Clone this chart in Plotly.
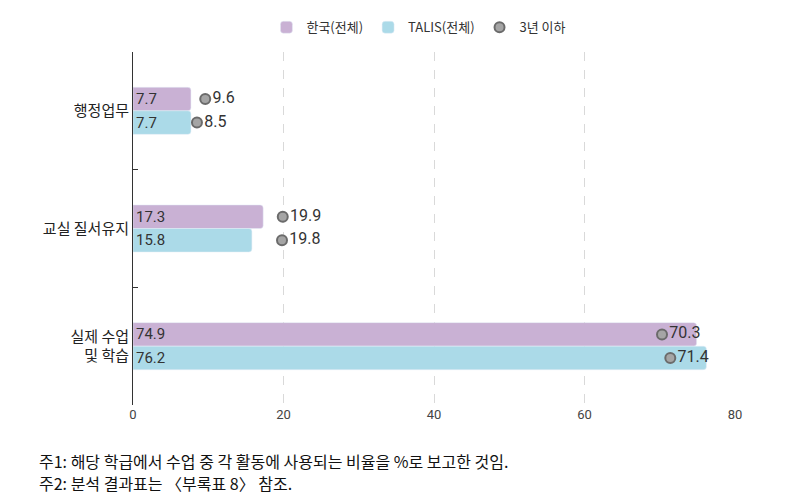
import plotly.graph_objects as go

categories = ["행정업무", "교실 질서유지", "실제 수업<br>및 학습"]
korea_all = [7.7, 17.3, 74.9]
talis_all = [7.7, 15.8, 76.2]
korea_3yr = [9.6, 19.9, 70.3]
talis_3yr = [8.5, 19.8, 71.4]
x_ticks = [0, 20, 40, 60, 80]

PURPLE = "#C9B1D4"
BLUE = "#ABDAE8"
DOT = "#A5A5A5"
DOT_LINE = "#6B6B6B"
FONT = "Noto Sans CJK KR"
NUMFONT = "Roboto, Noto Sans CJK KR"

fig = go.Figure()
for name, vals, color, grp in [("한국(전체)", korea_all, PURPLE, "k"),
                               ("TALIS(전체)", talis_all, BLUE, "t")]:
    fig.add_trace(go.Bar(
        name=name, x=vals, y=categories, orientation="h",
        marker=dict(color=color), text=[f"{v:.1f}" for v in vals],
        textposition="inside", insidetextanchor="start", textangle=0,
        constraintext="none",
        textfont=dict(color="#333333", size=15, family=NUMFONT),
        offsetgroup=grp, alignmentgroup="a",
    ))
for i, (vals, grp) in enumerate([(korea_3yr, "k"), (talis_3yr, "t")]):
    fig.add_trace(go.Scatter(
        name="3년 이하", x=vals, y=categories, mode="markers+text",
        orientation="h",
        marker=dict(size=10, color=DOT, line=dict(color=DOT_LINE, width=2)),
        text=[f"{v:.1f}" for v in vals], textposition="middle right",
        textfont=dict(color="#333333", size=16, family=NUMFONT),
        legendgroup="3yr", showlegend=(i == 0), cliponaxis=False,
        offsetgroup=grp, alignmentgroup="a",
    ))

fig.update_layout(
    width=788, height=504,
    margin=dict(l=133, r=53, t=52, b=99),
    paper_bgcolor="white", plot_bgcolor="white",
    barmode="group", bargap=0.6, bargroupgap=0.0,
    scattermode="group", scattergap=0.6,
    barcornerradius=3,
    font=dict(family=FONT, color="#333333", size=13),
    legend=dict(orientation="h", x=0.475, xanchor="center", y=1.07, yanchor="middle",
                font=dict(size=13, family=FONT, color="#333333"),
                itemwidth=30, traceorder="normal"),
    showlegend=True,
)
fig.update_xaxes(
    range=[0, 80], tickvals=x_ticks, showgrid=True, gridcolor="#D9D9D9",
    griddash="dash", gridwidth=1, zeroline=False, showline=False,
    tickfont=dict(size=13, color="#444444", family=NUMFONT), ticks="",
)
fig.update_yaxes(
    type="category", categoryorder="array", categoryarray=categories,
    autorange="reversed", showline=True, linecolor="#333333", linewidth=1,
    ticks="inside", ticklen=5, tickcolor="#333333", tickson="boundaries",
    showgrid=False, tickfont=dict(size=15, color="#222222"),
)

notes = [
    "주1: 해당 학급에서 수업 중 각 활동에 사용되는 비율을 %로 보고한 것임.",
    "주2: 분석 결과표는 〈부록표 8〉 참조.",
]
for j, note in enumerate(notes):
    fig.add_annotation(
        text=note, xref="paper", yref="paper", x=-0.16, y=-0.159 - 0.062 * j,
        xanchor="left", yanchor="middle", showarrow=False,
        font=dict(size=16, color="#111111", family=FONT),
    )

fig.write_html("out.html")
